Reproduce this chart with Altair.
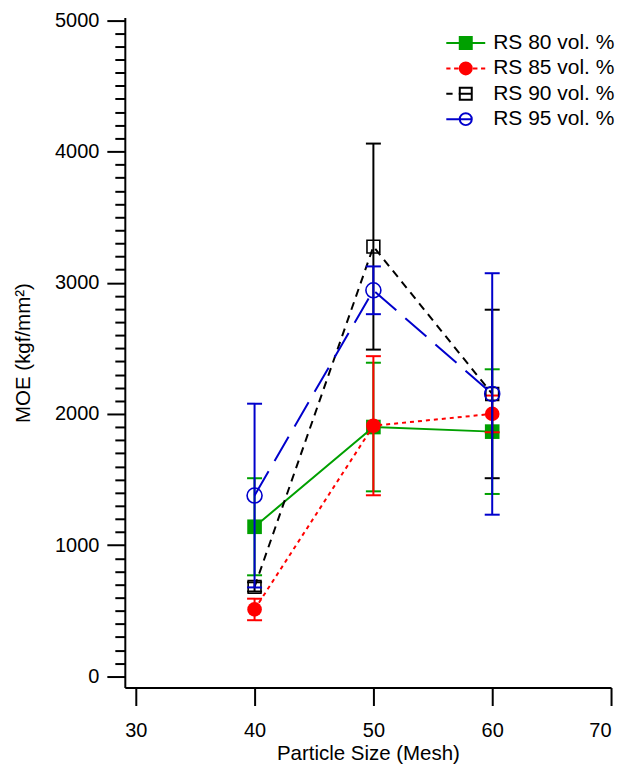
import altair as alt
import pandas as pd

# ---------------- data ----------------
mesh = [40, 50, 60]
series = ["RS 80 vol. %", "RS 85 vol. %", "RS 90 vol. %", "RS 95 vol. %"]
moe_80 = [1140, 1900, 1865]
err_80 = [370, 490, 475]
moe_85 = [510, 1910, 2000]
err_85 = [82, 530, 140]
moe_90 = [682, 3275, 2152]
err_90 = [35, 785, 642]
moe_95 = [1378, 2942, 2152]
err_95 = [700, 182, 920]

x_ticks = [30, 40, 50, 60, 70]
y_ticks = [0, 1000, 2000, 3000, 4000, 5000]
y_minor = [v for v in range(0, 5001, 100) if v % 1000 != 0]

# ---------------- style ----------------
FONT = "Liberation Sans"
colors = ["#00a000", "#ff0000", "#000000", "#0000cc"]
dashes = [None, [4, 4], [8, 6], [28, 12]]
shapes = ["square", "circle", "square", "circle"]
filled = [True, True, False, False]
sizes = [215, 215, 165, 225]
legend_fill = ["#00a000", "#ff0000", "transparent", "transparent"]
circ = "M-1,0A1,1 0 1,1 1,0A1,1 0 1,1 -1,0Z"
sq = "M-1,-1H1V1H-1Z"
legend_paths = [
    "M-3.25,0H3.25" + sq,
    "M-3.25,0H-2.55M-1.95,0H-1.2M1.2,0H1.95M2.55,0H3.25" + circ,
    "M-3.25,0H-2.2M-1.2,0H1.1" + sq,
    "M-3.25,0H1" + circ,
]

vals = [moe_80, moe_85, moe_90, moe_95]
errs = [err_80, err_85, err_90, err_95]
rows = []
for s, v, e in zip(series, vals, errs):
    for m, vv, ee in zip(mesh, v, e):
        rows.append({"series": s, "mesh": m, "moe": vv, "lo": vv - ee, "hi": vv + ee})
df = pd.DataFrame(rows)

xs = alt.Scale(domain=[29.08, 70], nice=False, zero=False)
ys = alt.Scale(domain=[-85, 5020], nice=False, zero=False)

x_axis = alt.Axis(values=x_ticks, title="Particle Size (Mesh)", tickSize=18, tickWidth=2,
                  domainWidth=2, labelFontSize=20, titleFontSize=20.5, labelPadding=15,
                  titlePadding=3, grid=False, labelFont=FONT, titleFont=FONT,
                  titleFontWeight="normal", domainColor="black", tickColor="black",
                  labelColor="black", titleColor="black")
y_axis = alt.Axis(values=y_ticks, title="MOE (kgf/mm²)", tickSize=18, tickWidth=2,
                  domainWidth=2, labelFontSize=20, titleFontSize=20.5, labelPadding=8,
                  titlePadding=21, grid=False, format="d", labelFont=FONT, titleFont=FONT,
                  titleFontWeight="normal", domainColor="black", tickColor="black",
                  labelColor="black", titleColor="black", orient="left")
y_minor_axis = alt.Axis(values=y_minor, tickSize=10, tickWidth=2, labels=False, domain=False,
                        title=None, grid=False, tickColor="black", orient="left")

layers = []
first = True
for i, s in enumerate(series):
    base = alt.Chart(df).transform_filter(alt.datum.series == s)
    c = colors[i]
    xa = x_axis if first else None
    ya = y_axis if first else None
    rule = base.mark_rule(color=c, strokeWidth=2).encode(
        x=alt.X("mesh:Q", scale=xs, axis=xa),
        y=alt.Y("lo:Q", scale=ys, axis=ya),
        y2="hi:Q",
    )
    caps = base.transform_fold(["lo", "hi"], as_=["end", "val"]).mark_tick(
        orient="horizontal", size=15, thickness=2, color=c, opacity=1
    ).encode(
        x=alt.X("mesh:Q", scale=xs, axis=None),
        y=alt.Y("val:Q", scale=ys, axis=None),
    )
    line_kw = dict(color=c, strokeWidth=2)
    if dashes[i] is not None:
        line_kw["strokeDash"] = dashes[i]
    line = base.mark_line(**line_kw).encode(
        x=alt.X("mesh:Q", scale=xs, axis=None),
        y=alt.Y("moe:Q", scale=ys, axis=y_minor_axis if first else None),
    )
    pts = base.mark_point(shape=shapes[i], filled=filled[i], size=sizes[i], color=c,
                          opacity=1, strokeWidth=1.6).encode(
        x=alt.X("mesh:Q", scale=xs, axis=None),
        y=alt.Y("moe:Q", scale=ys, axis=None),
    )
    layers += [rule, caps, line, pts]
    first = False

leg = alt.Legend(title=None, orient="none", legendX=318, legendY=15, symbolOffset=13,
                 labelOffset=17, rowPadding=3.4, labelFont=FONT, labelFontSize=21,
                 labelColor="black", padding=0, symbolSize=144, symbolStrokeWidth=2)
legend_layer = alt.Chart(df).transform_filter("false").mark_point(
    filled=True, opacity=1, size=144, strokeWidth=2
).encode(
    x=alt.X("mesh:Q", scale=xs, axis=None),
    y=alt.Y("moe:Q", scale=ys, axis=None),
    fill=alt.Fill("series:N", scale=alt.Scale(domain=series, range=legend_fill), legend=leg),
    stroke=alt.Stroke("series:N", scale=alt.Scale(domain=series, range=colors), legend=leg),
    shape=alt.Shape("series:N", scale=alt.Scale(domain=series, range=legend_paths), legend=leg),
)
layers.append(legend_layer)

chart = alt.layer(*layers).resolve_axis(x="independent", y="independent").properties(
    width=487, height=671, autosize=alt.AutoSizeParams(type="none"),
    padding={"left": 117, "top": 9, "right": 20, "bottom": 84},
).configure_view(stroke=None)

chart.save("out.html", embed_options={"renderer": "svg", "actions": False})
